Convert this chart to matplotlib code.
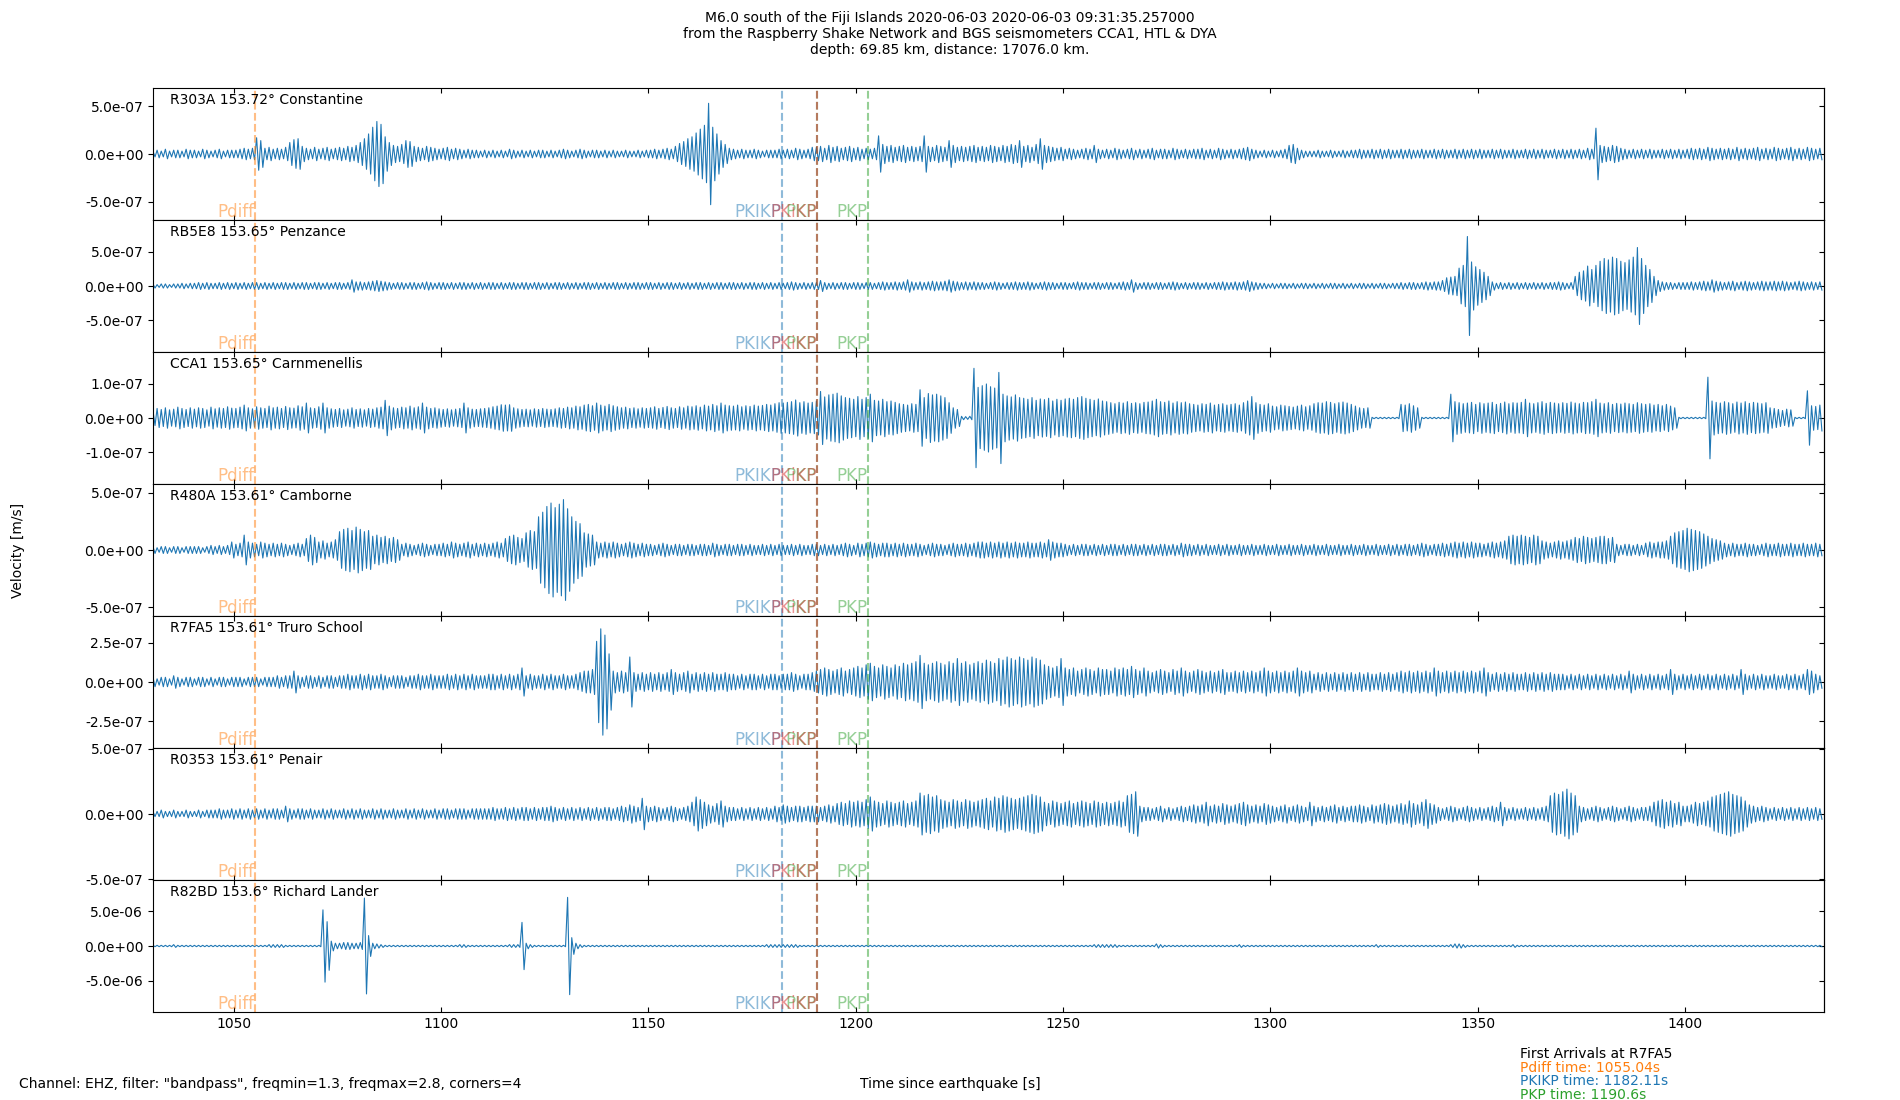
import matplotlib
matplotlib.use("Agg")
import matplotlib.pyplot as plt
import numpy as np
from matplotlib.ticker import FormatStrFormatter

# stations, top to bottom
stations = ["R303A 153.72° Constantine", "RB5E8 153.65° Penzance", "CCA1 153.65° Carnmenellis",
            "R480A 153.61° Camborne", "R7FA5 153.61° Truro School", "R0353 153.61° Penair",
            "R82BD 153.6° Richard Lander"]

# peak amplitude of each trace, one value per second starting at 1030.5 s
# (in the unit given in amp_units)
amp_units = [1e-8, 1e-8, 1e-9, 1e-8, 1e-8, 1e-8, 1e-7]
t_first = 1030.5

r303a = [3,4,3,5,3,4,4,3,5,4, 4,3,5,4,3,4,5,3,4,4, 4,5,6,5,6,17,14,6,7,5, 6,5,7,12,15,16,8,6,5,7,
         5,6,7,5,6,7,6,8,7,9, 12,16,21,28,34,31,18,12,9,8, 10,14,13,8,7,6,8,7,6,5, 6,7,5,6,5,4,5,4,4,3,
         4,3,4,3,4,3,5,4,3,4, 3,4,3,4,4,3,4,3,4,5, 4,3,4,5,4,3,4,4,3,4, 3,4,3,3,4,3,3,4,3,4,
         4,5,4,5,6,5,8,11,13,16, 18,22,26,30,53,28,21,14,10,6, 5,4,5,4,4,5,4,3,4,4, 4,5,4,5,4,6,5,4,5,7,
         7,8,6,9,7,8,6,7,8,6, 7,5,6,5,6,19,10,8,9,7, 8,9,7,8,7,8,19,8,7,9, 8,7,14,9,7,8,7,8,9,7,
         8,7,9,8,7,9,8,10,9,14, 8,9,7,10,16,9,8,7,6,7, 5,6,5,4,5,6,5,9,5,4, 5,4,6,5,4,5,6,4,5,4,
         5,6,4,5,5,4,6,5,4,5, 4,5,5,6,4,5,4,6,5,4, 5,4,5,6,7,5,4,3,4,3, 4,3,4,5,9,10,6,4,3,3,
         3,4,3,3,4,3,3,4,3,4, 4,5,4,4,5,4,5,4,5,4, 4,5,4,5,4,4,5,4,4,5, 4,5,4,4,5,4,5,4,5,4,
         5,4,4,5,4,5,4,4,5,4, 4,5,4,5,4,5,4,4,5,4, 5,4,5,4,5,4,6,5,27,9, 8,7,9,8,6,5,4,5,4,5,
         4,5,4,4,5,4,5,4,5,4, 5,6,5,6,5,7,6,5,6,5, 6,5,7,5,6,5,6,7,5,6, 5,7,6,5,6,7,5,6,5,7,
         6,5,6]

rb5e8 = [3,2,3,3,2,3,3,4,3,4, 4,5,4,5,4,4,5,4,5,4, 5,4,5,4,5,5,4,5,4,5, 4,5,5,4,5,4,5,5,4,5,
         5,4,5,4,5,5,4,5,9,6, 6,5,6,7,8,7,6,5,4,5, 5,4,5,5,4,5,6,5,4,5, 5,4,5,4,5,5,4,5,4,5,
         4,5,5,4,5,4,5,5,4,5, 5,4,5,5,4,5,4,5,5,4, 5,4,5,4,5,5,4,5,4,5, 4,5,5,4,5,4,5,5,4,5,
         5,4,5,4,5,5,4,5,4,5, 4,5,5,4,5,4,5,5,4,5, 5,4,5,4,5,5,4,5,4,5, 4,5,4,5,6,5,4,5,4,5,
         5,8,5,4,5,4,5,5,4,5, 5,4,5,5,4,5,6,5,5,6, 5,6,9,6,5,6,5,6,7,6, 6,7,9,7,6,5,6,5,6,5,
         5,4,5,6,5,4,5,5,6,5, 5,6,5,4,5,6,5,5,4,5, 5,4,5,6,5,5,4,5,5,4, 5,5,4,5,6,5,9,5,4,5,
         5,4,5,5,4,5,6,5,4,5, 4,5,5,4,5,4,5,5,6,5, 5,6,5,6,8,6,5,4,4,3, 4,3,4,4,3,4,3,4,4,3,
         4,3,4,3,4,4,3,4,3,4, 3,4,4,3,4,3,4,4,3,4, 4,5,4,5,5,4,5,6,5,6, 6,8,12,13,14,26,30,72,35,28,
         24,20,14,6,4,5,4,5,4,5, 4,5,4,5,4,5,4,5,5,6, 5,4,5,14,20,22,29,24,30,36, 40,38,42,40,36,34,38,42,56,40,
         30,24,14,8,6,5,5,4,5,5, 5,6,5,6,7,6,9,7,6,5, 6,7,5,6,7,6,5,6,7,6, 6,7,6,7,6,5,6,7,6,5,
         6,5,6]

cca1 = [22,28,25,30,24,26,32,28,25,30, 26,30,28,24,32,27,30,28,33,29, 28,32,38,30,27,33,30,28,35,30,
        32,28,34,30,29,36,33,44,30,28, 33,44,30,27,25,28,24,26,30,25, 27,24,28,26,30,32,52,35,30,28,
        32,30,35,30,33,44,32,28,30,27, 25,27,24,26,28,44,30,26,25,27, 28,30,33,35,39,38,39,30,27,25,
        26,24,27,25,28,26,25,27,30,28, 32,30,35,33,38,40,36,44,38,35, 40,36,33,30,32,28,30,27,30,28,
        30,33,28,31,34,30,28,33,30,35, 33,36,32,38,35,40,36,44,38,36, 35,38,33,36,34,38,35,37,40,38,
        42,45,44,46,48,53,45,48,44,46, 50,78,62,68,70,73,65,60,58,55, 63,55,60,70,52,50,55,48,50,46,
        42,40,38,42,40,83,60,72,68,70, 65,60,45,30,25,5,4,5,146,90, 95,100,92,88,134,70,65,62,68,60,
        58,55,60,52,56,54,58,50,55,52, 56,58,55,60,63,58,55,52,56,50, 48,45,42,46,44,48,43,45,42,46,
        47,50,55,48,46,50,44,48,45,47, 42,40,38,42,40,44,38,40,42,38, 40,42,38,45,50,63,45,40,38,42,
        35,33,38,36,34,32,35,38,33,36, 42,45,44,48,46,42,45,47,44,40, 35,30,28,30,2,2,2,2,2,2,
        2,40,38,42,36,30,2,2,2,2, 2,2,2,70,48,45,42,44,46,40, 45,42,44,46,40,43,47,42,45,44,
        46,55,44,42,45,48,43,46,44,42, 45,43,47,44,42,46,45,48,55,44, 42,45,40,43,41,44,42,40,45,42,
        40,42,38,40,36,40,35,30,2,2, 2,2,2,2,2,120,50,46,44,48, 45,42,47,44,48,43,46,44,42,45,
        30,28,25,22,26,24,2,2,2,80, 36,34,38]

r480a = [3,2,3,3,2,3,3,2,3,3, 3,3,2,3,4,3,4,3,4,7, 5,6,13,7,6,5,7,6,5,6, 5,6,5,4,5,6,5,10,13,11,
         7,8,6,7,9,16,18,19,17,20, 18,16,17,12,13,11,12,10,11,9, 5,6,5,4,5,6,5,4,5,5, 6,5,7,6,5,6,7,5,6,5,
         6,5,6,7,6,10,12,13,11,10, 15,17,16,29,33,38,41,37,40,44, 36,29,25,23,15,14,13,7,6,7,
         6,7,6,5,6,7,6,5,6,5, 5,4,5,6,5,4,5,5,4,5, 5,4,5,5,4,6,5,4,5,5, 4,5,5,4,5,4,4,5,4,5,
         4,5,4,4,5,4,5,4,4,5, 5,4,5,4,5,4,5,6,5,4, 6,5,6,7,6,5,6,6,5,6, 5,6,5,5,6,5,4,5,6,5,
         5,4,5,6,5,5,6,5,6,7, 7,6,7,6,7,6,7,6,7,6, 6,7,6,6,7,6,9,7,6,6, 5,4,5,4,5,5,4,5,4,5,
         4,5,5,4,5,4,5,5,4,5, 4,5,4,5,5,4,5,4,6,5, 5,4,5,4,5,4,4,5,4,5, 4,4,5,4,4,5,4,4,5,4,
         4,5,4,4,5,4,4,5,4,4, 5,4,4,5,4,4,5,4,4,5, 4,4,5,4,4,5,4,4,5,4, 5,4,5,5,4,5,6,5,4,5,
         5,6,5,6,7,6,7,6,7,6, 6,5,6,7,6,7,8,12,13,12, 13,12,11,13,12,8,7,6,7,8, 7,8,9,11,10,12,11,10,11,12,
         12,10,11,5,4,5,5,4,5,4, 6,7,6,7,7,8,12,15,16,17, 19,18,17,16,14,12,10,9,8,6, 5,6,5,5,6,5,5,4,5,6,
         5,5,6,5,5,6,5,5,6,5, 5,6,5]

r7fa5 = [3,2,3,3,2,4,3,2,3,3, 2,3,3,2,3,2,3,3,2,3, 3,3,2,3,3,3,2,3,3,3, 4,3,4,4,7,4,3,4,4,3,
         4,3,4,4,3,4,4,5,4,4, 5,4,5,4,4,5,4,3,4,4, 4,3,4,4,5,4,4,5,4,4, 4,5,4,5,4,5,4,5,4,4,
         4,5,5,4,5,4,5,4,5,9, 4,5,4,4,5,4,5,4,4,5, 4,4,5,6,7,7,8,26,34,30, 18,7,6,7,6,16,6,5,6,5,
         6,5,6,5,6,8,6,5,6,7, 5,6,5,6,5,6,5,5,6,5, 5,4,5,4,5,5,4,5,4,5, 5,4,5,5,6,5,4,5,5,6,
         7,8,9,8,7,8,9,7,8,9, 10,9,11,12,10,9,11,10,9,11, 10,12,11,12,13,17,12,11,12,13, 12,11,13,12,15,12,13,11,12,13,
         12,14,13,12,15,14,16,15,14,16, 15,14,16,15,14,11,10,9,10,15, 9,8,9,7,8,9,8,7,9,8, 8,7,9,8,9,8,10,8,7,9,
         7,6,7,8,7,6,8,7,9,7, 6,7,8,7,6,7,6,7,8,6, 6,7,6,7,6,7,6,7,9,7, 6,7,6,7,6,7,9,7,6,7,
         5,6,5,6,5,6,5,6,5,6, 5,6,5,6,5,5,6,5,6,5, 6,7,6,7,6,7,6,7,6,9, 7,6,7,6,7,6,7,6,7,6,
         7,9,6,5,6,5,6,5,6,5, 5,6,5,6,5,6,5,6,5,5, 5,4,5,4,5,4,5,4,5,4, 5,4,5,4,5,4,7,5,4,5,
         4,5,4,5,4,5,8,5,4,5, 4,5,4,5,4,5,4,5,4,5, 4,5,4,8,5,4,5,4,5,4, 4,5,4,4,5,4,5,4,5,8,
         7,5,4]

r0353 = [2,2,3,2,2,3,2,2,3,2, 2,3,2,3,3,3,4,3,3,4, 3,4,3,4,3,4,3,4,3,4, 4,3,6,4,3,4,4,3,4,3,
         3,4,3,4,3,3,4,3,4,3, 4,3,3,4,3,4,3,3,4,3, 3,4,3,4,3,4,3,3,4,3, 4,4,3,4,4,4,3,4,4,4,
         4,4,5,4,4,5,4,5,4,5, 5,4,5,4,5,5,6,5,4,5, 4,5,4,5,4,5,4,5,4,5, 5,4,5,6,5,7,6,5,12,6,
         5,6,5,4,5,6,5,4,5,6, 9,13,11,9,7,6,8,10,6,5, 5,4,5,4,5,4,5,4,5,4, 6,5,7,6,5,6,6,5,6,6,
         6,5,6,7,6,8,9,8,10,9, 10,9,11,13,10,9,8,10,9,8, 9,10,8,9,10,16,14,15,13,14, 11,10,9,11,10,9,11,10,9,10,
         11,12,10,13,12,14,13,12,11,12, 13,14,15,14,13,9,8,10,9,8, 9,10,8,9,10,9,8,10,9,8, 9,8,9,10,9,14,15,17,6,5,
         5,4,5,6,4,5,4,5,6,5, 6,7,6,7,9,6,7,6,8,7, 6,7,8,9,7,6,7,6,8,7, 6,5,6,7,5,6,7,6,5,9,
         6,5,6,5,6,7,5,6,5,6, 6,7,6,5,7,6,7,8,7,6, 7,8,7,10,8,7,9,11,8,7, 5,4,5,6,5,4,5,6,5,4,
         5,4,5,6,5,9,5,4,5,4, 4,5,4,5,4,5,6,14,16,15, 17,19,16,14,6,5,4,5,6,5, 4,5,6,5,4,5,6,5,4,5,
         5,6,9,10,11,9,10,8,9,6, 6,7,9,8,9,10,13,14,15,16, 17,15,14,13,10,7,6,5,6,5, 4,5,4,5,4,5,4,5,4,5,
         4,5,4]

r82bd = [1,1,1,1,1,2,1,1,1,1, 1,1,1,1,1,1,1,1,1,1, 1,1,1,1,1,1,1,1,2,2, 2,2,1,1,1,1,1,1,1,1,
         1,52,35,7,4,4,5,5,4,4, 5,69,15,4,3,2,1,1,1,1, 1,1,1,1,1,1,1,1,1,1, 1,1,1,1,2,2,1,1,1,1,
         1,1,1,1,1,1,2,2,2,34, 4,2,1,1,1,1,1,1,1,1, 70,12,4,2,1,1,1,1,1,1, 1,1,1,1,1,1,1,1,1,1,
         1,1,1,1,1,1,1,1,1,1, 1,1,1,1,1,1,1,1,1,1, 1,1,1,1,1,1,1,1,2,2, 2,2,2,2,2,2,1,1,1,1,
         1,1,1,1,1,1,1,1,1,1, 1,1,1,1,1,1,1,1,1,1, 1,1,1,1,1,1,1,1,1,1, 1,1,1,1,1,1,1,1,1,1,
         1,1,1,1,1,1,1,1,1,1, 1,1,1,1,1,1,1,1,1,1, 1,1,1,1,1,1,1,2,2,2, 2,2,2,1,1,1,1,1,1,1,
         1,1,3,2,1,1,1,1,1,1, 1,1,1,1,1,1,1,1,1,1, 1,1,2,1,1,1,1,1,1,1, 1,1,1,1,1,1,1,1,1,1,
         1,1,1,1,1,1,1,1,1,1, 1,1,1,1,1,2,1,1,1,1, 1,1,1,1,1,1,1,1,1,1, 1,1,1,2,3,3,2,1,1,1,
         1,1,1,1,1,1,1,1,2,1, 1,1,1,1,1,1,1,1,1,1, 1,1,1,1,1,1,1,1,1,1, 1,1,1,1,1,1,1,1,1,1,
         1,1,1,1,1,1,1,1,1,1, 1,1,1,1,1,1,1,1,1,1, 1,1,1,1,1,1,1,1,1,1, 1,1,1,1,1,1,1,1,1,1,
         1,1,1]

traces = [r303a, rb5e8, cca1, r480a, r7fa5, r0353, r82bd]

# y range and tick step per panel [m/s]
y_lims = [6.9e-7, 9.6e-7, 1.94e-7, 5.76e-7, 4.22e-7, 5.04e-7, 9.5e-6]
y_steps = [5e-7, 5e-7, 1e-7, 5e-7, 2.5e-7, 5e-7, 5e-6]

# phase arrivals [s]
phase_names = ["Pdiff", "PKIKP", "PKP", "PKiKP", "PKP"]
phase_times = [1055.04, 1182.11, 1190.6, 1190.6, 1202.9]
phase_colors = ["C1", "C0", "C2", "C3", "C2"]

first_names = ["Pdiff", "PKIKP", "PKP"]
first_times = [1055.04, 1182.11, 1190.6]
first_colors = ["C1", "C0", "C2"]


def main():
    fig, axs = plt.subplots(7, 1, sharex=True, figsize=(19, 11), dpi=100)
    fig.subplots_adjust(left=0.0805, right=0.96, top=0.92, bottom=0.08, hspace=0)

    for i, ax in enumerate(axs):
        a = np.array(traces[i]) * amp_units[i]
        t = t_first + np.arange(len(a))
        # each per-second peak drawn as one up/down swing
        x = np.column_stack([t, t + 0.5]).ravel()
        y = np.column_stack([a, -a]).ravel()
        ax.plot(x, y, color="C0", lw=0.8)

        for name, pt, c in zip(phase_names, phase_times, phase_colors):
            ax.axvline(pt, color=c, ls="--", alpha=0.5)
            ax.text(pt, 0.025, name, color=c, alpha=0.5, ha="right", fontsize=12,
                    transform=ax.get_xaxis_transform())

        ax.text(0.01, 0.88, stations[i], transform=ax.transAxes, fontsize=10)
        ax.set_ylim(-y_lims[i], y_lims[i])
        ticks = [-y_steps[i], 0, y_steps[i]]
        ax.set_yticks(ticks)
        ax.yaxis.set_major_formatter(FormatStrFormatter("%.1e"))
        ax.tick_params(axis="x", direction="in", top=True)
        sec = ax.secondary_yaxis("right")
        sec.set_yticks(ticks)
        sec.tick_params(direction="in", labelright=False)

    axs[-1].set_xlim(1030.5, 1433.5)

    fig.suptitle("M6.0 south of the Fiji Islands 2020-06-03 2020-06-03 09:31:35.257000\n"
                 "from the Raspberry Shake Network and BGS seismometers CCA1, HTL & DYA\n"
                 "depth: 69.85 km, distance: 17076.0 km.", fontsize=10, y=0.99)
    fig.text(0.006, 0.5, "Velocity [m/s]", rotation=90, va="center", fontsize=10)
    fig.text(0.5, 0.011, "Time since earthquake [s]", ha="center", fontsize=10)
    fig.text(0.01, 0.011, 'Channel: EHZ, filter: "bandpass", freqmin=1.3, freqmax=2.8, corners=4', fontsize=10)

    fig.text(0.8, 0.0385, "First Arrivals at R7FA5", fontsize=10)
    for k, (name, ft, c) in enumerate(zip(first_names, first_times, first_colors)):
        fig.text(0.8, 0.0258 - k * 0.0126, f"{name} time: {ft}s", color=c, fontsize=10)

    fig.savefig("out.png", dpi=100)


if __name__ == "__main__":
    main()
